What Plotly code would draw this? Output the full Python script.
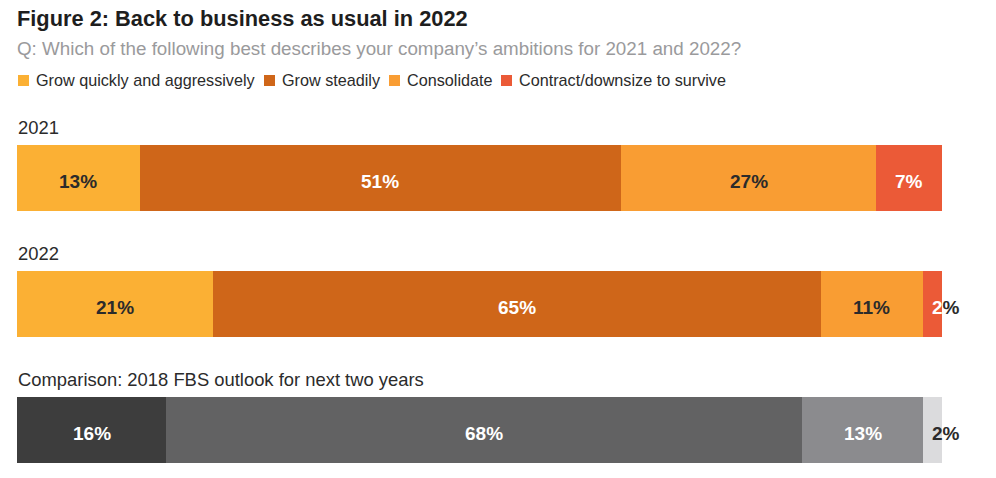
import plotly.graph_objects as go

# ---- data ----
categories = ["Grow quickly and aggressively", "Grow steadily", "Consolidate", "Contract/downsize to survive"]
rows = ["2021", "2022", "Comparison: 2018 FBS outlook for next two years"]
values_2021 = [13, 51, 27, 7]
values_2022 = [21, 65, 11, 2]
values_2018 = [16, 68, 13, 2]

title_text = "Figure 2: Back to business as usual in 2022"
subtitle_text = "Q: Which of the following best describes your company\u2019s ambitions for 2021 and 2022?"

# ---- style ----
W, H = 996, 478
ML, MR, MT, MB = 17, 54, 115, 0
PW, PH = W - ML - MR, H - MT - MB
FONT = "Liberation Sans, Arial, Helvetica, sans-serif"
DARK = "#2b2b2b"
colors_main = ["#FBB034", "#CF6619", "#F99D33", "#EB5A37"]
colors_grey = ["#3D3D3D", "#626263", "#8B8B8E", "#DBDBDD"]
label_colors_main = [DARK, "white", DARK, "white"]
label_colors_grey = ["white", "white", "white", DARK]
BAR_W = 66 / 126.0


def px2x(p):
    return (p - ML) / PW


def px2y(p):
    return (H - MB - p) / PH


series = [values_2021, values_2022, values_2018]
fig = go.Figure()

for ci, cat in enumerate(categories):
    xs, ys = [], []
    for ri in (0, 1):
        tot = sum(series[ri])
        xs.append(series[ri][ci] / tot)
        ys.append(ri)
    fig.add_trace(go.Bar(
        x=xs, y=ys, orientation="h", width=BAR_W, name=cat,
        marker=dict(color=colors_main[ci], line=dict(width=0)),
        showlegend=False, hoverinfo="skip",
    ))
for ci, cat in enumerate(categories):
    tot = sum(values_2018)
    fig.add_trace(go.Bar(
        x=[values_2018[ci] / tot], y=[2], orientation="h", width=BAR_W, name=cat + " (2018)",
        marker=dict(color=colors_grey[ci], line=dict(width=0)),
        showlegend=False, hoverinfo="skip",
    ))

annotations = []
# value labels
for ri, vals in enumerate(series):
    tot = sum(vals)
    cum = 0
    lc = label_colors_grey if ri == 2 else label_colors_main
    for ci, v in enumerate(vals):
        start = cum / tot
        frac = v / tot
        cum += v
        if v <= 3:
            if ri == 2:
                txt = "<b>%d%%</b>" % v
            else:
                txt = '<b><span style="color:%s">%d</span><span style="color:%s">%%</span></b>' % (lc[ci], v, DARK)
            annotations.append(dict(
                x=start, y=ri, xref="x", yref="y", text=txt, showarrow=False,
                xanchor="left", yanchor="middle", xshift=7, yshift=-3,
                font=dict(family=FONT, size=19, color=lc[ci] if ri == 2 else DARK),
            ))
        else:
            annotations.append(dict(
                x=start + frac / 2, y=ri, xref="x", yref="y",
                text="<b>%d%%</b>" % v, showarrow=False,
                xanchor="center", yanchor="middle", yshift=-3,
                font=dict(family=FONT, size=19, color=lc[ci]),
            ))

# row labels
for ri, r in enumerate(rows):
    annotations.append(dict(
        x=0, y=ri - BAR_W / 2, xref="paper", yref="y", text=r, showarrow=False,
        xanchor="left", yanchor="bottom", yshift=5, xshift=-1,
        font=dict(family=FONT, size=18.4, color=DARK),
    ))

# title & subtitle
annotations.append(dict(
    x=px2x(15), y=px2y(18), xref="paper", yref="paper", text="<b>" + title_text + "</b>",
    showarrow=False, xanchor="left", yanchor="middle",
    font=dict(family=FONT, size=21.8, color="#1e1e1e"),
))
annotations.append(dict(
    x=px2x(15), y=px2y(48), xref="paper", yref="paper", text=subtitle_text,
    showarrow=False, xanchor="left", yanchor="middle",
    font=dict(family=FONT, size=18.8, color="#9a9a9c"),
))

# legend (squares + text)
legend_sq_px = [18, 264, 389, 501]
shapes = []
for ci, cat in enumerate(categories):
    x0 = legend_sq_px[ci]
    shapes.append(dict(
        type="rect", xref="paper", yref="paper",
        x0=px2x(x0), x1=px2x(x0 + 11), y0=px2y(86), y1=px2y(75),
        fillcolor=colors_main[ci], line=dict(width=0),
    ))
    annotations.append(dict(
        x=px2x(x0 + 16), y=px2y(80), xref="paper", yref="paper", text=cat,
        showarrow=False, xanchor="left", yanchor="middle",
        font=dict(family=FONT, size=16.2, color=DARK),
    ))

fig.update_layout(
    width=W, height=H, barmode="stack", bargap=0,
    margin=dict(l=ML, r=MR, t=MT, b=MB, pad=0),
    paper_bgcolor="white", plot_bgcolor="white",
    xaxis=dict(range=[0, 1], visible=False, fixedrange=True),
    yaxis=dict(range=[-0.5 + PH / 126.0, -0.5], visible=False, fixedrange=True),
    annotations=annotations, shapes=shapes, showlegend=False,
    font=dict(family=FONT),
)

fig.write_html(
    "out.html",
    config={"displayModeBar": False, "staticPlot": True},
    post_script="document.body.style.margin='0';document.body.style.overflow='hidden';",
)
